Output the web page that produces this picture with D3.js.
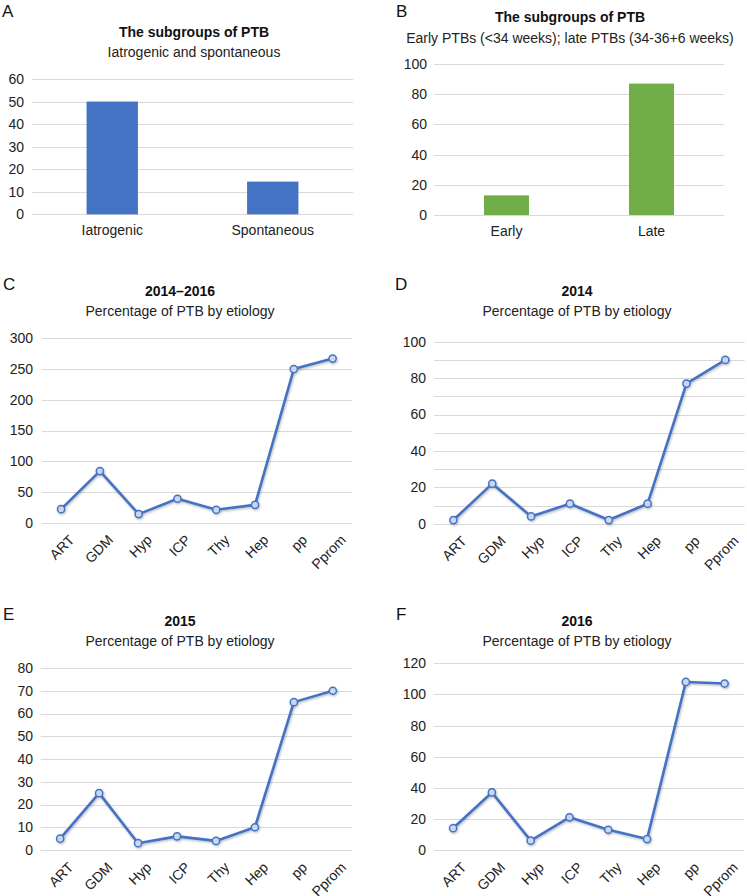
<!DOCTYPE html>
<html>
<head>
<meta charset="utf-8">
<script src="https://cdn.jsdelivr.net/npm/d3@7"></script>
<style>
  html, body { margin: 0; padding: 0; background: #fff; }
  svg { display: block; font-family: "Liberation Sans", Arial, Helvetica, sans-serif; }
</style>
</head>
<body>
<svg id="chart" width="747" height="896"></svg>
<script>
// ---- Data ----
const barCatsA = ["Iatrogenic", "Spontaneous"];
const barValsA = [50, 14.5];
const yTicksA = [0, 10, 20, 30, 40, 50, 60];

const barCatsB = ["Early", "Late"];
const barValsB = [13, 87];
const yTicksB = [0, 20, 40, 60, 80, 100];

const etiologies = ["ART", "GDM", "Hyp", "ICP", "Thy", "Hep", "pp", "Pprom"];
const vals2014_2016 = [22, 84, 14, 39, 21, 29, 250, 267];
const vals2014 = [2, 22, 4, 11, 2, 11, 77, 90];
const vals2015 = [5, 25, 3, 6, 4, 10, 65, 70];
const vals2016 = [14, 37, 6, 21, 13, 7, 108, 107];

const yTicksC = [0, 50, 100, 150, 200, 250, 300];
const yTicksD = [0, 20, 40, 60, 80, 100];
const yGridD = [0, 10, 20, 30, 40, 50, 60, 70, 80, 90, 100];
const yTicksE = [0, 10, 20, 30, 40, 50, 60, 70, 80];
const yTicksF = [0, 20, 40, 60, 80, 100, 120];

const titleA = "The subgroups of PTB", subA = "Iatrogenic and spontaneous";
const titleB = "The subgroups of PTB", subB = "Early PTBs (<34 weeks); late PTBs (34-36+6 weeks)";
const subLine = "Percentage of PTB by etiology";

// ---- Drawing ----
const svg = d3.select("#chart");
const defs = svg.append("defs");
const f = defs.append("filter").attr("id", "shadow").attr("x", "-10%").attr("y", "-10%").attr("width", "130%").attr("height", "130%");
f.append("feDropShadow").attr("dx", 0.8).attr("dy", 1.2).attr("stdDeviation", 0.9)
  .attr("flood-color", "#000").attr("flood-opacity", 0.28);

const GRID = "#d9d9d9";
const BLUE = "#4472C4";
const GREEN = "#70AD47";

function letter(txt, x, y) {
  svg.append("text").attr("x", x).attr("y", y).attr("font-size", 17).attr("fill", "#111").text(txt);
}
function titles(cx, y1, t, y2, s) {
  svg.append("text").attr("x", cx).attr("y", y1).attr("text-anchor", "middle")
    .attr("font-size", 14).attr("font-weight", "bold").attr("fill", "#111").text(t);
  svg.append("text").attr("x", cx).attr("y", y2).attr("text-anchor", "middle")
    .attr("font-size", 14).attr("fill", "#222").text(s);
}

function yAxis(g, y, ticks, grid, x0, x1, labelX) {
  g.append("g").selectAll("line").data(grid).join("line")
    .attr("x1", x0).attr("x2", x1)
    .attr("y1", d => Math.round(y(d)) + 0.5).attr("y2", d => Math.round(y(d)) + 0.5)
    .attr("stroke", GRID).attr("stroke-width", 1.2);
  const ax = d3.axisLeft(y).tickValues(ticks).tickSize(0).tickPadding(x0 - labelX);
  const a = g.append("g").attr("transform", `translate(${x0},0)`).call(ax);
  a.select(".domain").remove();
  a.selectAll("text").attr("font-size", 14).attr("fill", "#222")
    .attr("font-family", "Liberation Sans, Arial, sans-serif");
}

function barPanel(cfg) {
  const g = svg.append("g");
  const x = d3.scaleBand().domain(cfg.cats).range([cfg.x0, cfg.x1]).paddingInner(cfg.pad).paddingOuter(cfg.pad / 2);
  const y = d3.scaleLinear().domain([0, d3.max(cfg.ticks)]).range([cfg.y0, cfg.yTop]);
  yAxis(g, y, cfg.ticks, cfg.ticks, cfg.x0, cfg.x1, cfg.labelX);
  g.append("g").selectAll("rect").data(cfg.vals).join("rect")
    .attr("x", (d, i) => x(cfg.cats[i])).attr("width", x.bandwidth())
    .attr("y", d => y(d)).attr("height", d => y(0) - y(d))
    .attr("fill", cfg.color);
  const xa = d3.axisBottom(x).tickSize(0).tickPadding(11);
  const a = g.append("g").attr("transform", `translate(0,${cfg.y0})`).call(xa);
  a.select(".domain").remove();
  a.selectAll("text").attr("font-size", 14).attr("fill", "#222")
    .attr("font-family", "Liberation Sans, Arial, sans-serif");
}

function linePanel(cfg) {
  const g = svg.append("g");
  const x = d3.scalePoint().domain(etiologies).range([cfg.x0, cfg.x1]).padding(0.5);
  const y = d3.scaleLinear().domain([0, d3.max(cfg.ticks)]).range([cfg.y0, cfg.yTop]);
  yAxis(g, y, cfg.ticks, cfg.grid || cfg.ticks, cfg.x0, cfg.x1, cfg.labelX);
  const pts = etiologies.map((c, i) => [x(c), y(cfg.vals[i])]);
  const sg = g.append("g").attr("filter", "url(#shadow)");
  sg.append("path").attr("d", d3.line()(pts)).attr("fill", "none")
    .attr("stroke", BLUE).attr("stroke-width", 2.6).attr("stroke-linejoin", "round");
  sg.selectAll("circle").data(pts).join("circle")
    .attr("cx", d => d[0]).attr("cy", d => d[1]).attr("r", 3.6)
    .attr("fill", "#c9d7f0").attr("stroke", BLUE).attr("stroke-width", 1.5);
  g.append("g").selectAll("text").data(etiologies).join("text")
    .attr("transform", d => `translate(${x(d) + 7},${cfg.y0 + 11}) rotate(-45)`)
    .attr("text-anchor", "end").attr("dy", "0.72em")
    .attr("font-size", 14).attr("fill", "#222").text(d => d);
}

// Panel A
letter("A", 2, 17);
titles(194, 37, titleA, 57, subA);
barPanel({ cats: barCatsA, vals: barValsA, ticks: yTicksA, x0: 32, x1: 353, y0: 214.3, yTop: 79, labelX: 24, pad: 0.68, color: BLUE });

// Panel B
letter("B", 396, 17);
titles(570, 22, titleB, 43, subB);
barPanel({ cats: barCatsB, vals: barValsB, ticks: yTicksB, x0: 434, x1: 724, y0: 215, yTop: 64, labelX: 427, pad: 0.69, color: GREEN });

// Panel C
letter("C", 3, 290);
titles(180, 295.7, "2014\u20132016", 315.7, subLine);
linePanel({ vals: vals2014_2016, ticks: yTicksC, x0: 41.7, x1: 352, y0: 522.7, yTop: 338.3, labelX: 33 });

// Panel D
letter("D", 395, 290);
titles(577, 295.7, "2014", 315.7, subLine);
linePanel({ vals: vals2014, ticks: yTicksD, grid: yGridD, x0: 434, x1: 744.7, y0: 523.7, yTop: 341.7, labelX: 426 });

// Panel E
letter("E", 3, 620);
titles(180, 625.7, "2015", 645.7, subLine);
linePanel({ vals: vals2015, ticks: yTicksE, x0: 40.7, x1: 352.3, y0: 850, yTop: 668, labelX: 33 });

// Panel F
letter("F", 396, 620);
titles(577, 625.7, "2016", 645.7, subLine);
linePanel({ vals: vals2016, ticks: yTicksF, x0: 433.7, x1: 744, y0: 850, yTop: 663.3, labelX: 426 });
</script>
</body>
</html>
